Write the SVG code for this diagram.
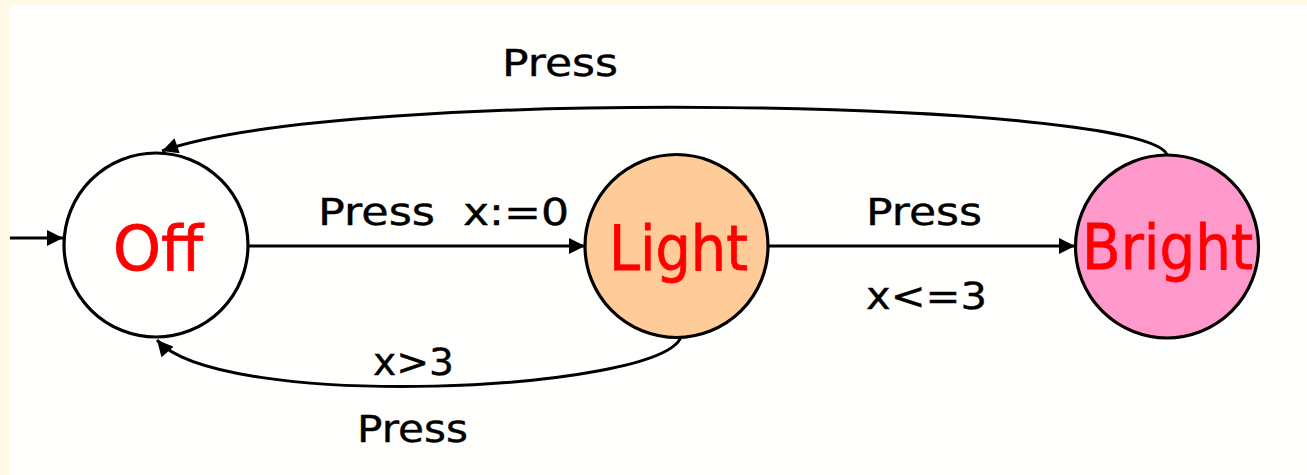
<svg xmlns="http://www.w3.org/2000/svg" width="1307" height="475" viewBox="0 0 1307 475">
<defs>
<style>
.node{stroke:#000;stroke-width:3.2}
.name{font-family:"DejaVu Sans","Liberation Sans",sans-serif;font-size:62px;fill:#ff0000;stroke:#ff0000;stroke-width:0.8;text-anchor:middle}
.lbl{font-family:"DejaVu Sans","Liberation Sans",sans-serif;font-size:38px;fill:#000;stroke:#000;stroke-width:0.4}
.edge{fill:none;stroke:#000;stroke-width:3}
</style>
<marker id="arr" viewBox="0 0 10 10" refX="10" refY="5" markerWidth="17" markerHeight="16" markerUnits="userSpaceOnUse" orient="auto">
<path d="M0,0 L10,5 L0,10 z" fill="#000"/>
</marker>
</defs>
<rect x="0" y="0" width="1307" height="475" fill="#fff9e6"/>
<rect x="10" y="5" width="1297" height="470" fill="#fffffd"/>
<g id="connectors">
<path class="edge" d="M10,238 L63,238" marker-end="url(#arr)"/>
<path class="edge" d="M248,246 L585,246" marker-end="url(#arr)"/>
<path class="edge" d="M768,246 L1075,246" marker-end="url(#arr)"/>
<path class="edge" d="M1167,155 C1150,100 350,85 162,151" marker-end="url(#arr)"/>
<path class="edge" d="M681,337 C660,392 220,412 157,340" marker-end="url(#arr)"/>
</g>
<g id="off">
<circle class="node" cx="156" cy="245" r="92" fill="#fffffd"/>
<text class="name" x="158" y="270" textLength="90" lengthAdjust="spacingAndGlyphs">Off</text>
</g>
<g id="light">
<circle class="node" cx="676.5" cy="246" r="91.5" fill="#ffcc99"/>
<text class="name" x="678.5" y="270" textLength="139" lengthAdjust="spacingAndGlyphs">Light</text>
</g>
<g id="bright">
<circle class="node" cx="1167" cy="246.5" r="91.5" fill="#ff99cc"/>
<text class="name" x="1167.5" y="269" textLength="171" lengthAdjust="spacingAndGlyphs">Bright</text>
</g>
<g id="labels">
<text class="lbl" x="502" y="76" textLength="116" lengthAdjust="spacingAndGlyphs">Press</text>
<text class="lbl" x="318" y="225" textLength="117" lengthAdjust="spacingAndGlyphs">Press</text>
<text class="lbl" x="463" y="225" textLength="106" lengthAdjust="spacingAndGlyphs">x:=0</text>
<text class="lbl" x="866" y="225" textLength="116" lengthAdjust="spacingAndGlyphs">Press</text>
<text class="lbl" x="866" y="309" textLength="121" lengthAdjust="spacingAndGlyphs">x&lt;=3</text>
<text class="lbl" x="373" y="375" textLength="81" lengthAdjust="spacingAndGlyphs">x&gt;3</text>
<text class="lbl" x="357" y="442" textLength="111" lengthAdjust="spacingAndGlyphs">Press</text>
</g>
</svg>
